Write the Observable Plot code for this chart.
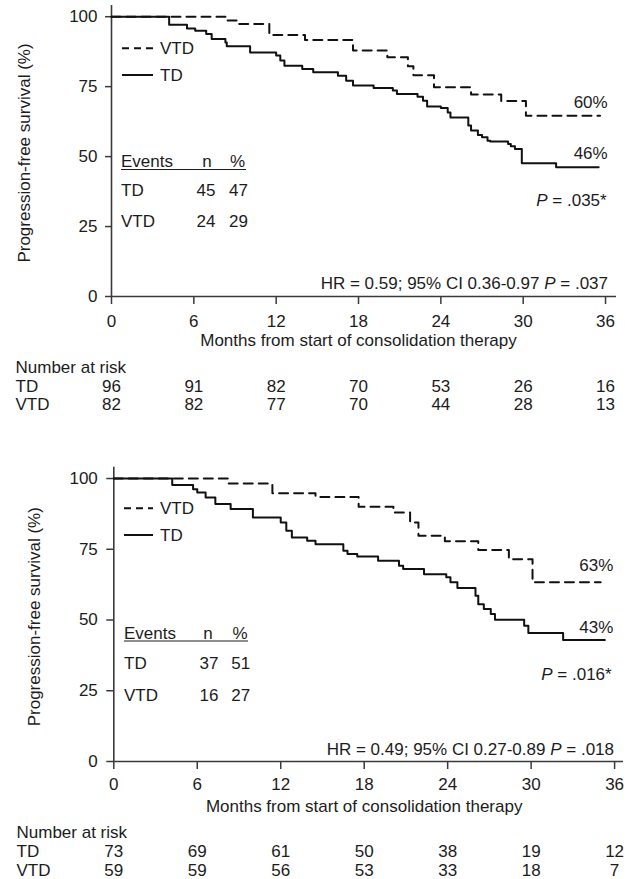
<!DOCTYPE html>
<html>
<head>
<meta charset="utf-8">
<script src="https://cdn.jsdelivr.net/npm/d3@7"></script>
<script src="https://cdn.jsdelivr.net/npm/@observablehq/plot@0.6"></script>
<style>
  html, body { margin: 0; padding: 0; background: #fff; }
  #root { position: relative; width: 629px; height: 879px; overflow: hidden; background: #fff; }
  #root svg { position: absolute; left: 0; }
</style>
</head>
<body>
<div id="root"></div>
<script>
// ---------------- DATA ----------------
const monthTicks = [0, 6, 12, 18, 24, 30, 36];
const yTicks = [0, 25, 50, 75, 100];
const seriesNames = ["VTD", "TD"];
const xTitle = "Months from start of consolidation therapy";
const yTitle = "Progression-free survival (%)";
const riskTitle = "Number at risk";
const eventsHeader = ["Events", "n", "%"];

// Panel 1 (top)
const tdMonths1 = [0, 4.2, 5.5, 6.1, 6.9, 7.3, 8.3, 8.4, 10.1, 12.0, 12.3, 12.6, 13.9, 14.7, 16.5, 17.1, 17.6, 19.1, 20.5, 20.8, 22.3, 22.7, 23.0, 24.0, 24.5, 24.7, 26.0, 26.2, 26.7, 27.0, 27.4, 27.6, 28.9, 29.1, 29.4, 29.9, 32.4, 35.5];
const tdSurv1   = [100, 97.1, 95.8, 95.0, 93.8, 92.0, 90.8, 89.4, 87.2, 86.1, 84.3, 82.5, 81.3, 80.1, 78.9, 77.1, 75.4, 74.5, 73.6, 72.4, 71.4, 70.0, 67.9, 67.4, 65.8, 64.0, 61.1, 59.3, 57.7, 56.9, 55.7, 55.4, 54.5, 53.7, 52.7, 47.6, 46.2, 46.2];
const vtdMonths1 = [0, 8.3, 9.2, 11.5, 14.1, 17.6, 20.1, 21.6, 22.0, 23.5, 26.2, 28.4, 30.2, 35.6];
const vtdSurv1   = [100, 98.6, 97.4, 93.5, 91.7, 87.9, 85.5, 82.3, 79.1, 74.8, 72.2, 69.9, 64.6, 64.6];
const riskTD1  = [96, 91, 82, 70, 53, 26, 16];
const riskVTD1 = [82, 82, 77, 70, 44, 28, 13];
const events1 = [["TD", "45", "47"], ["VTD", "24", "29"]];
const endLabels1 = ["60%", "46%"];
const pLogrank1 = ".035*";
const hrText1 = "HR = 0.59; 95% CI 0.36-0.97 ";
const hrP1 = ".037";

// Panel 2 (bottom)
const tdMonths2 = [0, 4.2, 5.7, 6.0, 6.6, 7.3, 8.4, 10.0, 12.0, 12.4, 12.8, 13.9, 14.5, 16.5, 16.8, 17.5, 19.0, 20.5, 20.8, 22.3, 23.9, 24.2, 24.7, 26.0, 26.2, 26.6, 27.1, 27.4, 29.5, 29.8, 32.3, 35.3];
const tdSurv2   = [100, 97.7, 96.2, 95.1, 93.3, 91.0, 89.2, 86.2, 84.5, 81.5, 79.2, 78.0, 76.8, 74.5, 73.3, 72.4, 70.9, 69.2, 68.0, 66.2, 65.1, 63.3, 61.3, 58.6, 55.6, 53.9, 52.1, 50.1, 48.0, 45.4, 42.9, 42.9];
const vtdMonths2 = [0, 8.2, 11.4, 14.5, 17.6, 20.1, 21.3, 21.9, 23.8, 26.2, 28.4, 30.1, 35.0];
const vtdSurv2   = [100, 98.2, 94.8, 93.5, 90.0, 88.0, 84.5, 79.8, 77.8, 74.7, 71.5, 63.3, 63.3];
const riskTD2  = [73, 69, 61, 50, 38, 19, 12];
const riskVTD2 = [59, 59, 56, 53, 33, 18, 7];
const events2 = [["TD", "37", "51"], ["VTD", "16", "27"]];
const endLabels2 = ["63%", "43%"];
const pLogrank2 = ".016*";
const hrText2 = "HR = 0.49; 95% CI 0.27-0.89 ";
const hrP2 = ".018";

// ---------------- STYLE / LAYOUT ----------------
const FONT = "'Liberation Sans', Arial, Helvetica, sans-serif";
const INK = "#1c1c1c";
const AXIS = "#3a3a3a";
const CURVE = "#111";
const DASH = "9,6";

const layout1 = {
  top: 0, height: 440, mt: 5, mb: 144, ml: 111, mr: 13, xmax: 36.8,
  xPad: 10, yTick: 6, yPad: 8,
  titleDy: 49, titleDx: -5.5, rowX: -96, numDy: 76, tdDy: 95, vtdDy: 113.5,
  yTitle: [24, 148],
  legendY: [43.3, 70], legendX: [11, 42, 49],
  evHeadY: 156, evX: [10, 96, 126.5], underline: [164.5, 10, 135], evRowY: [184.5, 216], evNumX: [95, 127.5],
  endLabY: [96.7, 148], endDx: -8.3, pY: 195, pDx: -9.3, hrY: 278, hrDx: -8
};
const layout2 = {
  top: 440, height: 439, mt: 26.7, mb: 118, ml: 113.3, mr: 6, xmax: 36.64,
  xPad: 8, yTick: 7, yPad: 9,
  titleDy: 50, titleDx: -4.5, rowX: -97.3, numDy: 76.5, tdDy: 95, vtdDy: 114.5,
  yTitle: [34, 150],
  legendY: [41.6, 68.3], legendX: [10.7, 39.7, 46.7],
  evHeadY: 166.6, evX: [10.7, 94.7, 126.7], underline: [174.3, 10.7, 134.7], evRowY: [196.3, 228.3], evNumX: [95.7, 127.4],
  endLabY: [98.3, 160.3], endDx: -9.7, pY: 207, pDx: -11.3, hrY: 282.1, hrDx: -9
};

// ---------------- OVERLAY (legend, events table, annotations) ----------------
function overlay(P, L) {
  return (index, scales, values, dim) => {
    const g = d3.create("svg:g")
      .attr("fill", INK).attr("font-family", FONT).attr("font-size", 17);
    const x0 = dim.marginLeft, y0 = dim.marginTop, xr = dim.width - dim.marginRight;
    const txt = (x, y, s, anchor = "start") =>
      g.append("text").attr("x", x).attr("y", y).attr("dy", "0.36em").attr("text-anchor", anchor).text(s);

    // y-axis title
    g.append("text")
      .attr("transform", `translate(${L.yTitle[0]},${y0 + L.yTitle[1]}) rotate(-90)`)
      .attr("text-anchor", "middle").attr("dy", "0.36em").text(yTitle);

    // legend
    seriesNames.forEach((name, i) => {
      const yy = y0 + L.legendY[i];
      g.append("line")
        .attr("x1", x0 + L.legendX[0]).attr("x2", x0 + L.legendX[1])
        .attr("y1", yy).attr("y2", yy)
        .attr("stroke", CURVE).attr("stroke-width", 2)
        .attr("stroke-dasharray", i === 0 ? "7,5" : null);
      txt(x0 + L.legendX[2], yy, name);
    });

    // events table
    txt(x0 + L.evX[0], y0 + L.evHeadY, eventsHeader[0]);
    txt(x0 + L.evX[1], y0 + L.evHeadY, eventsHeader[1], "middle");
    txt(x0 + L.evX[2], y0 + L.evHeadY, eventsHeader[2], "middle");
    g.append("line")
      .attr("x1", x0 + L.underline[1]).attr("x2", x0 + L.underline[2])
      .attr("y1", y0 + L.underline[0]).attr("y2", y0 + L.underline[0])
      .attr("stroke", INK).attr("stroke-width", 1.2);
    P.events.forEach((row, i) => {
      const yy = y0 + L.evRowY[i];
      txt(x0 + L.evX[0], yy, row[0]);
      txt(x0 + L.evNumX[0], yy, row[1], "middle");
      txt(x0 + L.evNumX[1], yy, row[2], "middle");
    });

    // end-of-curve percentages
    P.endLabels.forEach((s, i) => txt(xr + L.endDx, y0 + L.endLabY[i], s, "end"));

    // log-rank P
    const pt = g.append("text").attr("x", xr + L.pDx).attr("y", y0 + L.pY)
      .attr("dy", "0.36em").attr("text-anchor", "end");
    pt.append("tspan").attr("font-style", "italic").text("P");
    pt.append("tspan").text(" = " + P.pLog);

    // hazard ratio line
    const ht = g.append("text").attr("x", xr + L.hrDx).attr("y", y0 + L.hrY)
      .attr("dy", "0.36em").attr("text-anchor", "end");
    ht.append("tspan").text(P.hrText);
    ht.append("tspan").attr("font-style", "italic").text("P");
    ht.append("tspan").text(" = " + P.hrP);

    return g.node();
  };
}

// ---------------- PANEL ----------------
function panel(P, L) {
  const td = P.tdT.map((t, i) => ({t, s: P.tdS[i]}));
  const vtd = P.vtdT.map((t, i) => ({t, s: P.vtdS[i]}));
  const riskTD = monthTicks.map((t, i) => ({t, n: String(P.riskTD[i])}));
  const riskVTD = monthTicks.map((t, i) => ({t, n: String(P.riskVTD[i])}));

  const svg = Plot.plot({
    width: 629, height: L.height,
    marginTop: L.mt, marginBottom: L.mb, marginLeft: L.ml, marginRight: L.mr,
    style: {fontFamily: FONT, fontSize: "17px", color: INK, background: "white", overflow: "visible"},
    x: {domain: [0, L.xmax], label: null},
    y: {domain: [0, 104], label: null},
    marks: [
      Plot.axisX({ticks: monthTicks, tickSize: 8, tickPadding: L.xPad, stroke: AXIS, strokeWidth: 1.5, label: null, tickFormat: d => String(d)}),
      Plot.axisY({ticks: yTicks, tickSize: L.yTick, tickPadding: L.yPad, stroke: AXIS, strokeWidth: 1.5, label: null, tickFormat: d => String(d)}),
      Plot.ruleX([0], {stroke: AXIS, strokeWidth: 1.6}),
      Plot.ruleY([0], {stroke: AXIS, strokeWidth: 1.6}),
      Plot.line(vtd, {x: "t", y: "s", curve: "step-after", stroke: CURVE, strokeWidth: 2, strokeDasharray: DASH}),
      Plot.line(td, {x: "t", y: "s", curve: "step-after", stroke: CURVE, strokeWidth: 2}),
      Plot.text([xTitle], {text: d => d, frameAnchor: "bottom", dx: L.titleDx, dy: L.titleDy, fill: INK}),
      Plot.text([riskTitle], {text: d => d, frameAnchor: "bottom-left", dx: L.rowX, dy: L.numDy, textAnchor: "start", fill: INK}),
      Plot.text([seriesNames[1]], {text: d => d, frameAnchor: "bottom-left", dx: L.rowX, dy: L.tdDy, textAnchor: "start", fill: INK}),
      Plot.text([seriesNames[0]], {text: d => d, frameAnchor: "bottom-left", dx: L.rowX, dy: L.vtdDy, textAnchor: "start", fill: INK}),
      Plot.text(riskTD, {x: "t", text: "n", frameAnchor: "bottom", dy: L.tdDy, fill: INK}),
      Plot.text(riskVTD, {x: "t", text: "n", frameAnchor: "bottom", dy: L.vtdDy, fill: INK}),
      overlay(P, L)
    ]
  });
  svg.style.top = L.top + "px";
  return svg;
}

const root = document.getElementById("root");
root.appendChild(panel({
  tdT: tdMonths1, tdS: tdSurv1, vtdT: vtdMonths1, vtdS: vtdSurv1,
  riskTD: riskTD1, riskVTD: riskVTD1, events: events1, endLabels: endLabels1,
  pLog: pLogrank1, hrText: hrText1, hrP: hrP1
}, layout1));
root.appendChild(panel({
  tdT: tdMonths2, tdS: tdSurv2, vtdT: vtdMonths2, vtdS: vtdSurv2,
  riskTD: riskTD2, riskVTD: riskVTD2, events: events2, endLabels: endLabels2,
  pLog: pLogrank2, hrText: hrText2, hrP: hrP2
}, layout2));
</script>
</body>
</html>
